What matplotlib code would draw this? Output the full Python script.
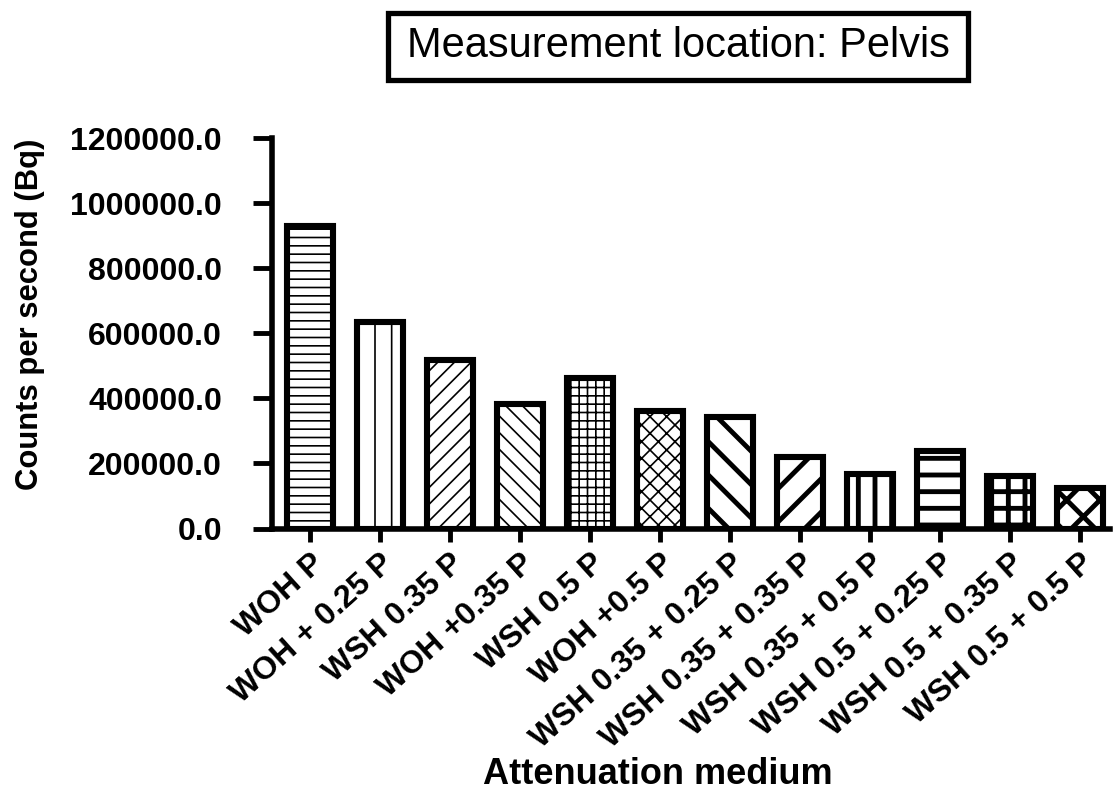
"""Pelvis 측정 위치에서 감쇠 매질별 counts per second 막대그래프."""

import matplotlib
matplotlib.use("Agg")
import matplotlib.pyplot as plt
from matplotlib.patches import Rectangle

plt.rcParams["font.family"] = ["Liberation Sans", "DejaVu Sans"]

# 그림에서 읽은 값
MEDIA = [
    "WOH P", "WOH + 0.25 P", "WSH 0.35 P", "WOH +0.35 P", "WSH 0.5 P",
    "WOH +0.5 P", "WSH 0.35 + 0.25 P", "WSH 0.35 + 0.35 P", "WSH 0.35 + 0.5 P",
    "WSH 0.5 + 0.25 P", "WSH 0.5 + 0.35 P", "WSH 0.5 + 0.5 P",
]
COUNTS = [930000, 635000, 518000, 383000, 462000, 360000,
          343000, 221000, 168000, 237000, 162000, 124000]
Y_TICKS = [0, 200000, 400000, 600000, 800000, 1000000, 1200000]

# 막대별 hatch 패턴과 hatch 선 두께
HATCHES = ["--", "|", "//", "\\\\", "++", "xx", "\\", "/", "|", "-", "+", "x"]
HATCH_LW = [1.2, 1.2, 1.2, 1.2, 1.2, 1.2, 3.5, 3.5, 3.5, 3.5, 3.5, 3.5]

W, H = 1119, 792
fig = plt.figure(figsize=(W / 100, H / 100), dpi=100)
ax = fig.add_axes([272 / W, 1 - 528.5 / H, (1110 - 272) / W, (528.5 - 138) / H])

for i, (val, hatch, hlw) in enumerate(zip(COUNTS, HATCHES, HATCH_LW)):
    with plt.rc_context({"hatch.linewidth": hlw, "hatch.color": "black"}):
        ax.bar(i, val, width=0.66, color="white", edgecolor="black",
               linewidth=4.4, hatch=hatch, zorder=2)

ax.set_xlim(-0.54, 11.43)
ax.set_ylim(0, 1200000)
ax.set_yticks(Y_TICKS, labels=[f"{v:.1f}" for v in Y_TICKS])
ax.set_xticks(range(len(MEDIA)))
ax.set_xticklabels(MEDIA, rotation=42, ha="right", va="top",
                   rotation_mode="anchor", fontsize=23, fontweight="bold")
for lab in ax.get_yticklabels():
    lab.set_fontweight("bold")
ax.tick_params(axis="y", length=14, width=3.5, pad=22, labelsize=23)
ax.tick_params(axis="x", length=9, width=3.5, pad=5)

ax.spines["top"].set_visible(False)
ax.spines["right"].set_visible(False)
for side in ("left", "bottom"):
    ax.spines[side].set_linewidth(4)

# 제목 상자
fig.text(678 / W, 1 - 46 / H, "Measurement location: Pelvis",
         ha="center", va="center", fontsize=30)
fig.add_artist(Rectangle((388 / W, 1 - 80 / H), 580 / W, 67 / H,
                         transform=fig.transFigure, fill=False,
                         linewidth=3.8, edgecolor="black"))

fig.text(30 / W, 1 - 314 / H, "Counts per second (Bq)", rotation=90,
         ha="center", va="center", fontsize=22.3, fontweight="bold")
fig.text(658 / W, 1 - 775 / H, "Attenuation medium",
         ha="center", va="center", fontsize=26, fontweight="bold")

fig.savefig("out.png", dpi=100)
